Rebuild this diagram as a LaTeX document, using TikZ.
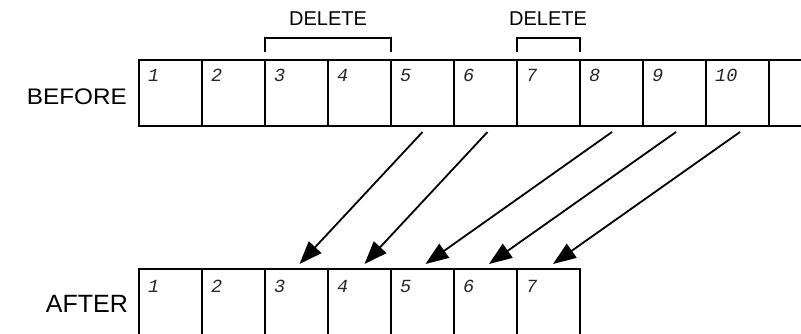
\documentclass[tikz,border=0pt]{standalone}
\usepackage{fontspec}
\setmainfont{Liberation Sans}
\newfontfamily\numfont{Liberation Mono}
\usetikzlibrary{arrows.meta}
\begin{document}
\begin{tikzpicture}[x=1pt,y=-1pt,
  cell/.style={draw, line width=1.5pt, minimum width=63pt, minimum height=66pt,
    inner sep=0pt, outer sep=0pt, anchor=north west},
  bcell/.style={cell, minimum height=80pt},
  num/.style={anchor=base west, inner sep=0pt,
    font=\numfont\itshape\fontsize{18.5}{18.5}\selectfont, text=black!85},
  arr/.style={line width=1.8pt, -{Triangle[length=23pt,width=17pt]}},
  brk/.style={line width=1.5pt},
  dlbl/.style={inner sep=0pt, font=\fontsize{20}{20}\selectfont},
  rowlbl/.style={inner sep=0pt, anchor=east}
]
\path[use as bounding box, clip] (0,0) rectangle (801,334);
% top row
\foreach \i in {1,...,11} \node[cell] (t\i) at ({139+63*(\i-1)},60) {};
\foreach \i in {1,...,10} \node[num] (tn\i) at ({148+63*(\i-1)},82) {\i};
% bottom row
\foreach \i in {1,...,7} \node[bcell] (b\i) at ({139+63*(\i-1)},269) {};
\foreach \i in {1,...,7} \node[num] (bn\i) at ({148+63*(\i-1)},292) {\i};
% row labels
\node[rowlbl, font=\fontsize{22.5}{22.5}\selectfont] (before) at (127,96.5) {\scalebox{1.08}[1]{BEFORE}};
\node[rowlbl, font=\fontsize{25}{25}\selectfont] (after) at (128,304) {AFTER};
% brackets
\draw[brk] ([yshift=8pt]t3.north west) -- ([yshift=22pt]t3.north west)
  -- ([yshift=22pt]t4.north east) -- ([yshift=8pt]t4.north east);
\draw[brk] ([yshift=8pt]t7.north west) -- ([yshift=22pt]t7.north west)
  -- ([yshift=22pt]t7.north east) -- ([yshift=8pt]t7.north east);
\node[dlbl] (del1) at (328,18.5) {DELETE};
\node[dlbl] (del2) at (548,18.5) {DELETE};
% arrows
\draw[arr] ([xshift=0pt,yshift=-6pt]t5.south) -- ([xshift=3pt,yshift=5pt]b3.north);
\draw[arr] ([xshift=2pt,yshift=-6pt]t6.south) -- ([xshift=5pt,yshift=5pt]b4.north);
\draw[arr] ([xshift=0.5pt,yshift=-6pt]t8.south) -- ([xshift=3pt,yshift=5pt]b5.north);
\draw[arr] ([xshift=1.5pt,yshift=-6pt]t9.south) -- ([xshift=3.5pt,yshift=5pt]b6.north);
\draw[arr] ([xshift=2.5pt,yshift=-6pt]t10.south) -- ([xshift=4.5pt,yshift=5pt]b7.north);
\end{tikzpicture}
\end{document}
